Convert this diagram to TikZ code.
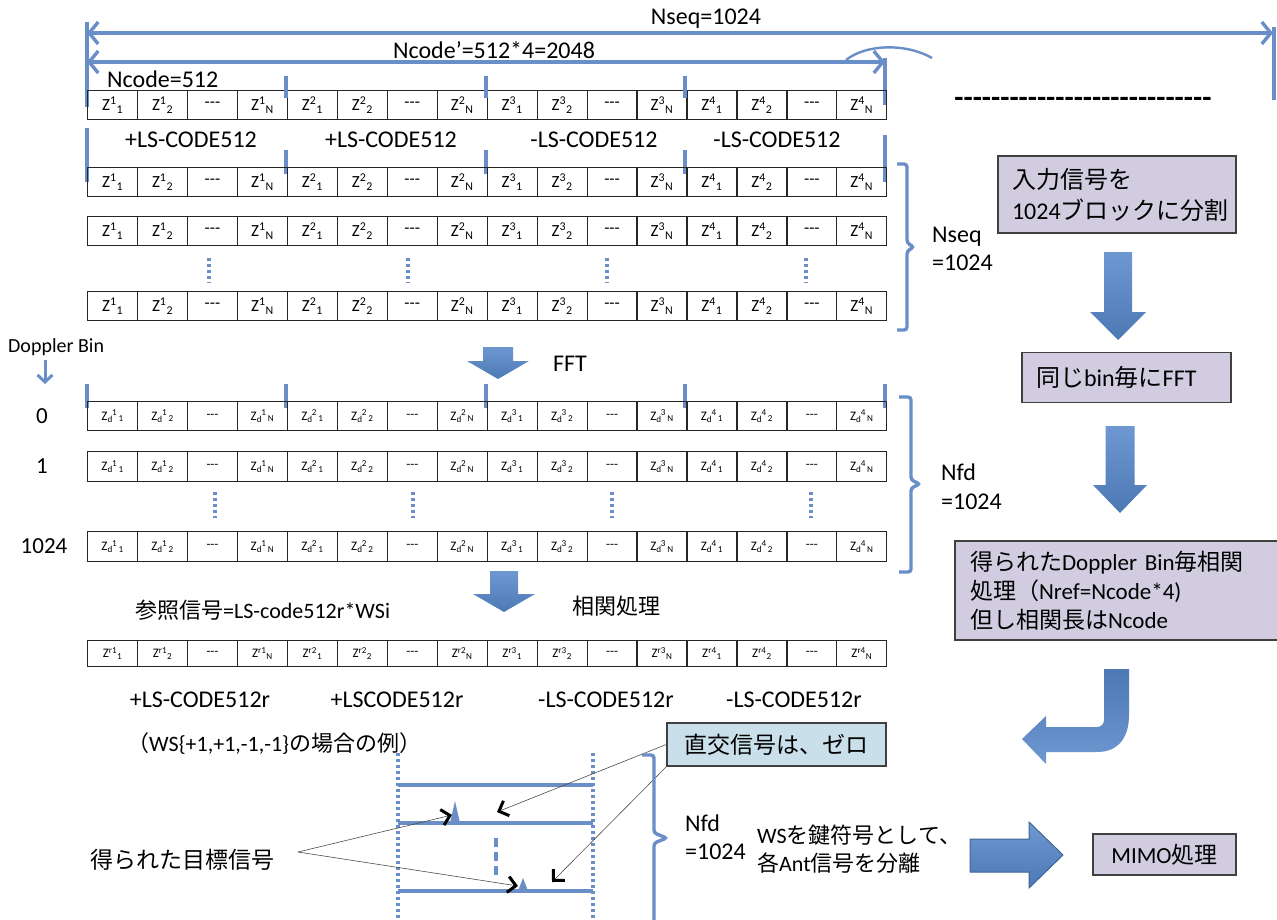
\documentclass[tikz,border=0pt]{standalone}
\usepackage{fontspec}
\setmainfont{Carlito}
\newfontfamily\jp{Noto Sans CJK JP}
\usetikzlibrary{arrows.meta}
\definecolor{lineblue}{HTML}{6A8EC8}
\definecolor{arrtop}{HTML}{6E98D2}
\definecolor{arrbot}{HTML}{4C78B3}
\definecolor{arredge}{HTML}{3F6497}
\definecolor{lav}{HTML}{D1CCE0}
\definecolor{lblue}{HTML}{C9E0EA}
\definecolor{boxedge}{HTML}{404040}
\newcommand\fsz[1]{\fontsize{#1}{#1}\selectfont}
\newcommand\fszb[2]{\fontsize{#1}{#2}\selectfont}
\newcommand\dsh{-{}-{}-}
\newcommand\zA[2]{Z\textsuperscript{#1}\textsubscript{#2}}
\newcommand\zD[2]{Z\textsubscript{d}\kern-0.05em\textsuperscript{#1}\kern0.1em\textsubscript{#2}}
\newcommand\zR[2]{Z\textsuperscript{r#1}\textsubscript{#2}}
% #1 name, #2 top y, #3 height, #4 macro, #5 font size
\newcommand\cellrow[5]{%
\foreach \k in {1,...,4}{%
 \foreach \j/\s in {0/1,1/2,2/x,3/N}{%
  \pgfmathsetmacro\xx{87+49.95*(4*(\k-1)+\j)}%
  \node[cell,minimum height=#3pt,font=\fsz{#5}] (#1-\k-\j) at (\xx,#2) {\ifnum\j=2 \dsh\else #4{\k}{\s}\fi};%
 }}}
% cx, top, headstart, tip, shaft half, head half
\newcommand\blkdown[6]{%
\shade[top color=arrtop,bottom color=arrbot] (#1-#5,#2) -- (#1+#5,#2) -- (#1+#5,#3) -- (#1+#6,#3) -- (#1,#4) -- (#1-#6,#3) -- (#1-#5,#3) -- cycle;}
\begin{document}
\begin{tikzpicture}[x=1pt,y=-1pt,
  cell/.style={draw=black!85, line width=1.2pt, minimum width=49.95pt, inner sep=0pt, anchor=north west},
  bar/.style={draw=lineblue, line width=3.4pt},
  dimline/.style={draw=lineblue, line width=3.4pt, {Straight Barb[length=9pt,width=22pt]}-{Straight Barb[length=9pt,width=22pt]}},
  dotline/.style={draw=lineblue, line width=3.4pt, dash pattern=on 3pt off 3pt},
  bracepath/.style={draw=lineblue, line width=3.4pt, rounded corners=3pt},
  lbl/.style={font=\fsz{24}, inner sep=0pt},
  jbox/.style={draw=boxedge, line width=1.5pt, fill=lav},
  thinarr/.style={draw=black!70, line width=0.6pt, -{Straight Barb[length=8pt,width=16pt,line width=3pt,color=black]}},
]
\useasboundingbox (0,0) rectangle (1277,920);

% ---------- top dimensions ----------
\coordinate (nsL) at (87,33);
\coordinate (nsR) at (1273,33);
\coordinate (ncL) at (87,62);
\coordinate (ncR) at (885,62);
\draw[dimline] (nsL) -- (nsR);
\draw[dimline] (ncL) -- (ncR);
\draw[bar] (87,22) -- (87,107);
\draw[bar] (885,58) -- (885,105);
\draw[bar] (1274,27) -- (1274,100);
\draw[lineblue, line width=2.4pt] (846,60) .. controls (866,44) and (906,43) .. (932,58);
\node[lbl, anchor=base] (nseq) at (706,25) {Nseq=1024};
\node[lbl, anchor=base] (ncodep) at (494,59) {Ncode’=512*4=2048};
\node[lbl, anchor=base west] (ncode) at (107,88) {Ncode=512};
\node[font=\fsz{30}\bfseries, anchor=base, inner sep=0pt] (dashes) at (1083,108) {-{}-{}-{}-{}-{}-{}-{}-{}-{}-{}-{}-{}-{}-{}-{}-{}-{}-{}-{}-{}-{}-{}-{}-{}-{}-{}-{}-};

% ---------- rows of Z ----------
\cellrow{ra}{90}{29}{\zA}{17}
\foreach \x in {286,486,685} \draw[bar] (\x,76) -- (\x,98);
\node[lbl] (la1) at (191,140) {+LS-CODE512};
\node[lbl] (la2) at (391,140) {+LS-CODE512};
\node[lbl] (la3) at (594,140) {-LS-CODE512};
\node[lbl] (la4) at (777,140) {-LS-CODE512};
\draw[bar] (87,128) -- (87,182);
\draw[bar] (885,135) -- (885,182);
\foreach \x in {286,486,685} \draw[bar] (\x,150) -- (\x,174);
\cellrow{rb}{167}{29}{\zA}{17}
\cellrow{rc}{216}{29}{\zA}{17}
\cellrow{rd}{291}{29}{\zA}{17}
\foreach \x in {209,408,607,806} \draw[dotline] (\x,258) -- (\x,283);
\draw[bracepath] (897,164) -- (907,164) -- (907,243) -- (914,247) -- (907,251) -- (907,330) -- (897,330);
\node[inner sep=0pt, anchor=west, align=left, font=\fszb{24}{28}] (nseq2) at (932,249) {Nseq\\=1024};

% ---------- FFT ----------
\node[font=\fsz{20}, anchor=west, inner sep=0pt] (dbin) at (8,347) {Doppler Bin};
\draw[lineblue, line width=3pt, -{Straight Barb[length=7pt,width=15pt]}] (45,360) -- (45,384);
\blkdown{498}{347}{361}{379}{15}{31}
\node[lbl, anchor=west] (fft) at (553,364) {FFT};
\foreach \x in {87,286,486,685,885} \draw[bar] (\x,384) -- (\x,408);
\cellrow{da}{401}{29}{\zD}{13}
\cellrow{db}{451}{30}{\zD}{13}
\cellrow{dc}{531}{30}{\zD}{13}
\foreach \x in {215,413,612,811} \draw[dotline] (\x,492) -- (\x,518);
\node[font=\fsz{23}] (d0) at (42,416) {0};
\node[font=\fsz{23}] (d1) at (42,466) {1};
\node[font=\fsz{23}] (d2) at (44,546) {1024};
\draw[bracepath] (899,397) -- (911,397) -- (911,480) -- (920,484) -- (911,488) -- (911,572) -- (899,572);
\node[inner sep=0pt, anchor=west, align=left, font=\fszb{24}{29}] (nfd1) at (941,487) {Nfd\\=1024};

% ---------- correlation ----------
\blkdown{504}{571}{594}{612}{14}{31}
\node[font=\fsz{22}, anchor=west, inner sep=0pt] (sokan) at (572,606) {\jp 相関処理};
\node[font=\fsz{22}, anchor=west, inner sep=0pt] (sansho) at (135,610) {{\jp 参照信号}=LS-code512r*WSi};
\cellrow{rr}{640}{26}{\zR}{13}
\node[lbl] (lr1) at (200,700) {+LS-CODE512r};
\node[lbl] (lr2) at (397,700) {+LSCODE512r};
\node[lbl] (lr3) at (606,700) {-LS-CODE512r};
\node[lbl] (lr4) at (794,700) {-LS-CODE512r};
\node[font=\fsz{22}, anchor=west, inner sep=0pt] (wsex) at (127,744) {{\jp （}WS\{+1,+1,-1,-1\}{\jp の場合の例）}};

% ---------- result figure ----------
\draw[dotline] (398,753) -- (398,922);
\draw[dotline] (593,753) -- (593,922);
\draw[lineblue, line width=3.4pt] (398,785) -- (593,785);
\draw[lineblue, line width=3.4pt] (398,823) -- (593,823);
\draw[lineblue, line width=3.4pt] (398,891) -- (593,891);
\fill[lineblue] (450,823) -- (455,801) -- (460,823) -- cycle;
\fill[lineblue] (518,891) -- (523,878) -- (528,891) -- cycle;
\draw[lineblue, line width=3.4pt, dash pattern=on 9pt off 5pt] (496,838) -- (496,877);
\node[font=\fsz{23}, anchor=west, inner sep=0pt] (tgt) at (90,860) {\jp 得られた目標信号};
\coordinate (tgo) at (298,852);
\coordinate (t1) at (452,815);
\coordinate (t2) at (518,886);
\draw[thinarr] (tgo) -- (t1);
\draw[thinarr] (tgo) -- (t2);
\node[draw=boxedge, line width=1.5pt, fill=lblue, minimum width=219pt, minimum height=43pt, font=\fsz{23}\jp] (callout) at (776.5,744.5) {直交信号は、ゼロ};
\coordinate (h1) at (497,812);
\coordinate (h2) at (552,882);
\draw[thinarr] (callout.west) -- (h1);
\draw[thinarr] (callout.south west) -- (h2);
\draw[bracepath] (642,755) -- (654,755) -- (654,833) -- (667,838) -- (654,843) -- (654,925);
\node[inner sep=0pt, anchor=west, align=left, font=\fszb{24}{28}] (nfd2) at (685,837) {Nfd\\=1024};
\node[anchor=west, align=left, inner sep=0pt, font=\fszb{22}{28}] (wsk) at (757,849) {WS{\jp を鍵符号として、}\\{\jp 各}Ant{\jp 信号を分離}};
\shade[top color=arrtop, bottom color=arrbot, draw=arredge, line width=1pt] (970,839) -- (1029,839) -- (1029,822) -- (1063,855) -- (1029,888) -- (1029,872) -- (970,872) -- cycle;
\node[jbox, minimum width=143pt, minimum height=41pt, font=\fsz{23}] (mimo) at (1164.5,854.5) {MIMO{\jp 処理}};

% ---------- right column ----------
\node[jbox, minimum width=238pt, minimum height=77pt, text width=210pt, inner xsep=14pt, align=left, font=\fszb{24}{31}] (box1) at (1117,194.5) {{\jp 入力信号を}\\1024{\jp ブロックに分割}};
\blkdown{1118}{252}{312}{340}{14}{28}
\node[jbox, minimum width=209pt, minimum height=50pt, text width=181pt, inner xsep=14pt, align=left, font=\fsz{24}] (box2) at (1126.5,377.5) {{\jp 同じ}bin{\jp 毎に}FFT};
\blkdown{1120}{426}{485}{513}{14.5}{27}
\node[jbox, minimum width=325pt, minimum height=99pt, text width=295pt, inner xsep=15pt, align=left, font=\fszb{23}{29}] (box3) at (1117.5,590.5) {{\jp 得られた}Doppler Bin{\jp 毎相関}\\{\jp 処理（}Nref=Ncode*4)\\{\jp 但し相関長は}Ncode};
\shade[top color=arrbot, bottom color=arrtop] (1104,669) -- (1129,669) -- (1129,715) .. controls (1129,738) and (1118,752) .. (1097,752) -- (1046,752) -- (1046,764) -- (1022,739) -- (1046,716) -- (1046,727) -- (1097,727) .. controls (1101,727) and (1104,724) .. (1104,720) -- cycle;
\end{tikzpicture}
\end{document}
